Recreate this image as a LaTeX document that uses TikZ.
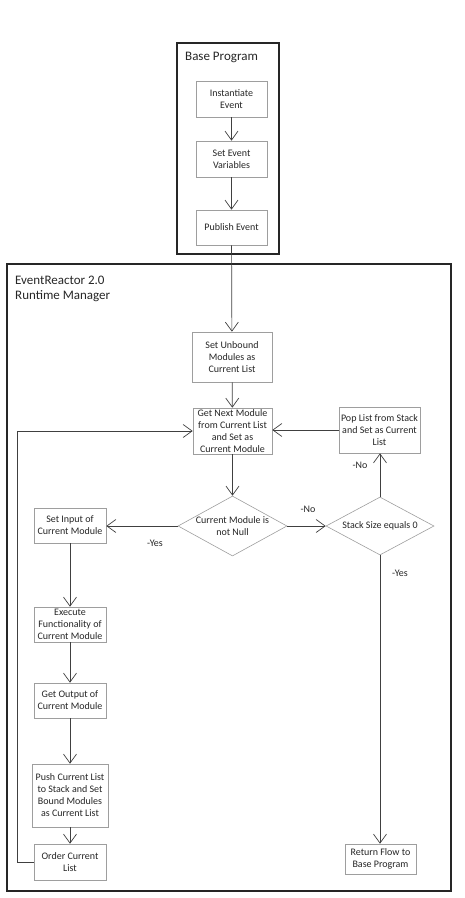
\documentclass[tikz,border=0pt]{standalone}
\usepackage{fontspec}
\setmainfont{Carlito}
\usetikzlibrary{arrows.meta,shapes.geometric}

\begin{document}
\begin{tikzpicture}[x=1pt,y=-1pt,
	box/.style={draw=black!38, fill=white, line width=0.6pt, align=center, inner sep=0pt, text=black!85, font=\fontsize{10}{12}\selectfont},
	decide/.style={diamond, draw=black!38, line width=0.6pt, align=center, inner sep=0pt, text=black!85, font=\fontsize{10}{12}\selectfont},
	frame/.style={draw=black!85, line width=1.4pt},
	flow/.style={draw=black!75, line width=0.7pt, -{Straight Barb[length=9pt,width=13pt]}},
	tag/.style={text=black!85, font=\fontsize{10}{12}\selectfont},
	head/.style={text=black!85, align=left, inner sep=0pt, font=\fontsize{13}{15.5}\selectfont}]
			%\draw [help lines] (0,0) grid (464,898);
			\useasboundingbox (0,0) rectangle (464,898);
			% outer frames
			\draw[frame] (177,43) rectangle (279,254);
			\draw[frame] (7,264) rectangle (451,891);
			\node[head, anchor=base west] (basetitle) at (185,60) {Base Program};
			\node[head, anchor=north west] (rttitle) at (15,275.5) {EventReactor 2.0\\Runtime Manager};
			% base program
			\node[box, minimum width=71, minimum height=36] (inst) at (231.5,99) {Instantiate\\Event};
			\node[box, minimum width=71, minimum height=36] (setvar) at (231.5,159) {Set Event\\Variables};
			\node[box, minimum width=71, minimum height=35] (publish) at (231.5,227.5) {Publish Event};
			% runtime manager
			\node[box, minimum width=80, minimum height=50] (unbound) at (232,357) {Set Unbound\\Modules as\\Current List};
			\node[box, minimum width=79, minimum height=46] (next) at (232.5,431) {Get Next Module\\from Current List\\and Set as\\Current Module};
			\node[box, minimum width=81, minimum height=46] (pop) at (379.5,430) {Pop List from Stack\\and Set as Current\\List};
			\node[decide, minimum width=109, minimum height=60] (notnull) at (232.5,526) {\makebox[0pt]{Current Module is}\\\makebox[0pt]{not Null}};
			\node[decide, minimum width=108, minimum height=58] (stack) at (380,526) {\makebox[0pt]{Stack Size equals 0}};
			\node[box, minimum width=72, minimum height=35] (input) at (70,525.5) {Set Input of\\Current Module};
			\node[box, minimum width=72, minimum height=35] (execute) at (70,624.5) {Execute\\Functionality of\\Current Module};
			\node[box, minimum width=72, minimum height=35] (output) at (70,700.5) {Get Output of\\Current Module};
			\node[box, minimum width=76, minimum height=63] (push) at (70,795.5) {Push Current List\\to Stack and Set\\Bound Modules\\as Current List};
			\node[box, minimum width=72, minimum height=36] (order) at (70,862) {Order Current\\List};
			\node[box, minimum width=71, minimum height=30] (return) at (380.5,859) {Return Flow to\\Base Program};
			\coordinate (loop) at (17,862);
			% connectors
			\draw[flow] (inst) -- (setvar);
			\draw[flow] (setvar) -- (publish);
			\draw[flow] (publish) -- (unbound);
			\draw[flow] (unbound) -- (next);
			\draw[flow] (next) -- (notnull);
			\draw[flow] (notnull.west) -- (notnull.west -| input.east);
			\draw[flow] (notnull.east) -- (stack.west);
			\draw[flow] (stack.north) -- (stack.north |- pop.south);
			\draw[flow] (stack.south) -- (stack.south |- return.north);
			\draw[flow] (pop.west) -- (pop.west -| next.east);
			\draw[flow] (input) -- (execute);
			\draw[flow] (execute) -- (output);
			\draw[flow] (output) -- (push);
			\draw[flow] (push) -- (order);
			\draw[flow] (order.west) -- (loop) |- (next.west);
			% branch labels
			\node[tag] (yesleft) at (155,543) {-Yes};
			\node[tag] (noright) at (308,509) {-No};
			\node[tag] (noup) at (360,465) {-No};
			\node[tag] (yesdown) at (400,573) {-Yes};
	\end{tikzpicture}
\end{document}
